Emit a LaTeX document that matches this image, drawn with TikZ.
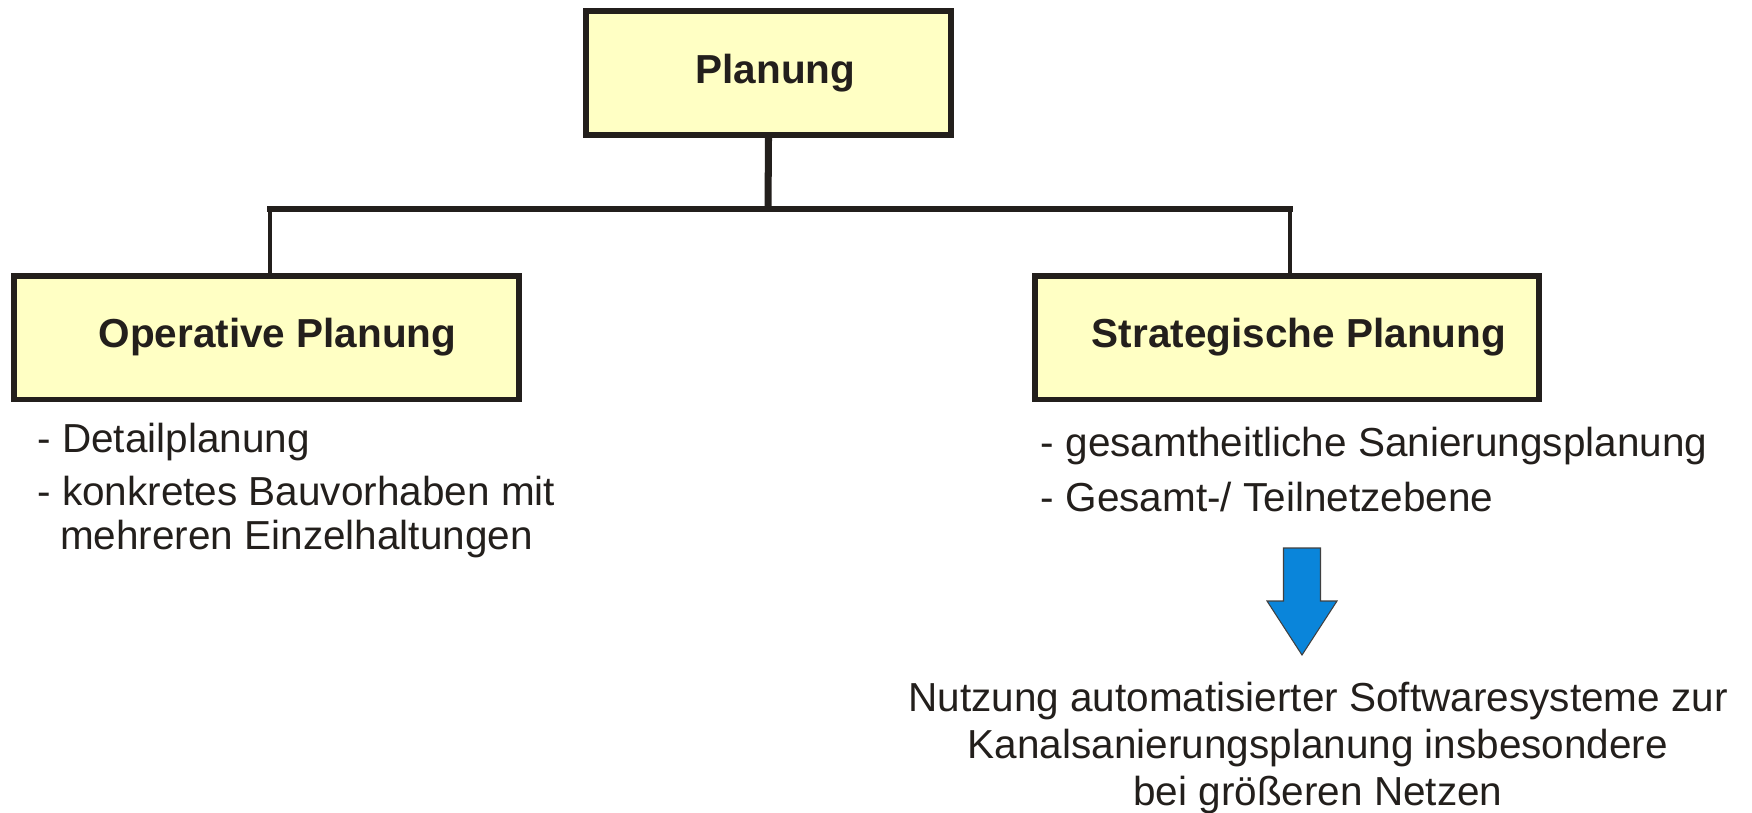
\documentclass[tikz,border=0pt]{standalone}
\usepackage{fontspec}
\setmainfont{Liberation Sans}
\usepackage{tikz}
\usetikzlibrary{positioning}
\definecolor{planGelb}{HTML}{FFFFC4}
\definecolor{planRand}{HTML}{231F1C}
\definecolor{planBlau}{HTML}{0A85DA}
\newcommand{\planfont}{\fontsize{23.05pt}{26.75pt}\selectfont}
\tikzset{
  kasten/.style={draw=planRand, line width=3.4pt, fill=planGelb, inner sep=0pt, minimum height=2.48cm, font=\planfont\bfseries, text=planRand},
  liste/.style={inner sep=0pt, align=left, font=\planfont, text=planRand},
  stamm/.style={draw=planRand, line width=4pt},
  querlinie/.style={draw=planRand, line width=3.6pt, line cap=rect},
  ast/.style={draw=planRand, line width=2.4pt},
  blockpfeil/.style={draw=black!75, line width=0.6pt, fill=planBlau, line join=miter},
}
\begin{document}
\begin{tikzpicture}[x=0.02cm, y=-0.02cm]
\useasboundingbox (0,0) rectangle (1752,812);
% Kaesten
\node[kasten, minimum width=7.3cm] (plan) at (768.5,73) {\hspace*{0.28cm}Planung};
\node[kasten, minimum width=10.1cm] (operativ) at (266.5,337.5) {\hspace*{0.44cm}Operative Planung};
\node[kasten, minimum width=10.1cm] (strategisch) at (1287,337.5) {\hspace*{0.48cm}Strategische Planung};

% Verbindungen
\coordinate (verteiler) at (768,209);
\coordinate (astL) at (270,209);
\coordinate (astR) at (1290,209);
\draw[stamm] (plan.south) -- (verteiler);
\draw[querlinie] (astL) -- (astR);
\draw[ast] (astL) -- (astL |- operativ.north);
\draw[ast] (astR) -- (astR |- strategisch.north);

% Listen
\node[liste, below right=0.41cm and 0.52cm of operativ.south west] (opListe) {- Detailplanung\\[0.12cm]- konkretes Bauvorhaben mit\\[-0.06cm]\hspace*{0.56em}mehreren Einzelhaltungen};
\node[liste, below right=0.48cm and 0.18cm of strategisch.south west] (strListe) {- gesamtheitliche Sanierungsplanung\\[0.16cm]- Gesamt-/ Teilnetzebene};

% Blockpfeil
\draw[blockpfeil] (1283.5,548) -- (1320.5,548) -- (1320.5,601) -- (1337,601) -- (1302,655) -- (1267,601) -- (1283.5,601) -- cycle;

% Ergebnis
\node[liste, align=center, anchor=north] (software) at (1318,682) {Nutzung automatisierter Softwaresysteme zur\\Kanalsanierungsplanung insbesondere\\bei größeren Netzen};
\end{tikzpicture}
\end{document}
